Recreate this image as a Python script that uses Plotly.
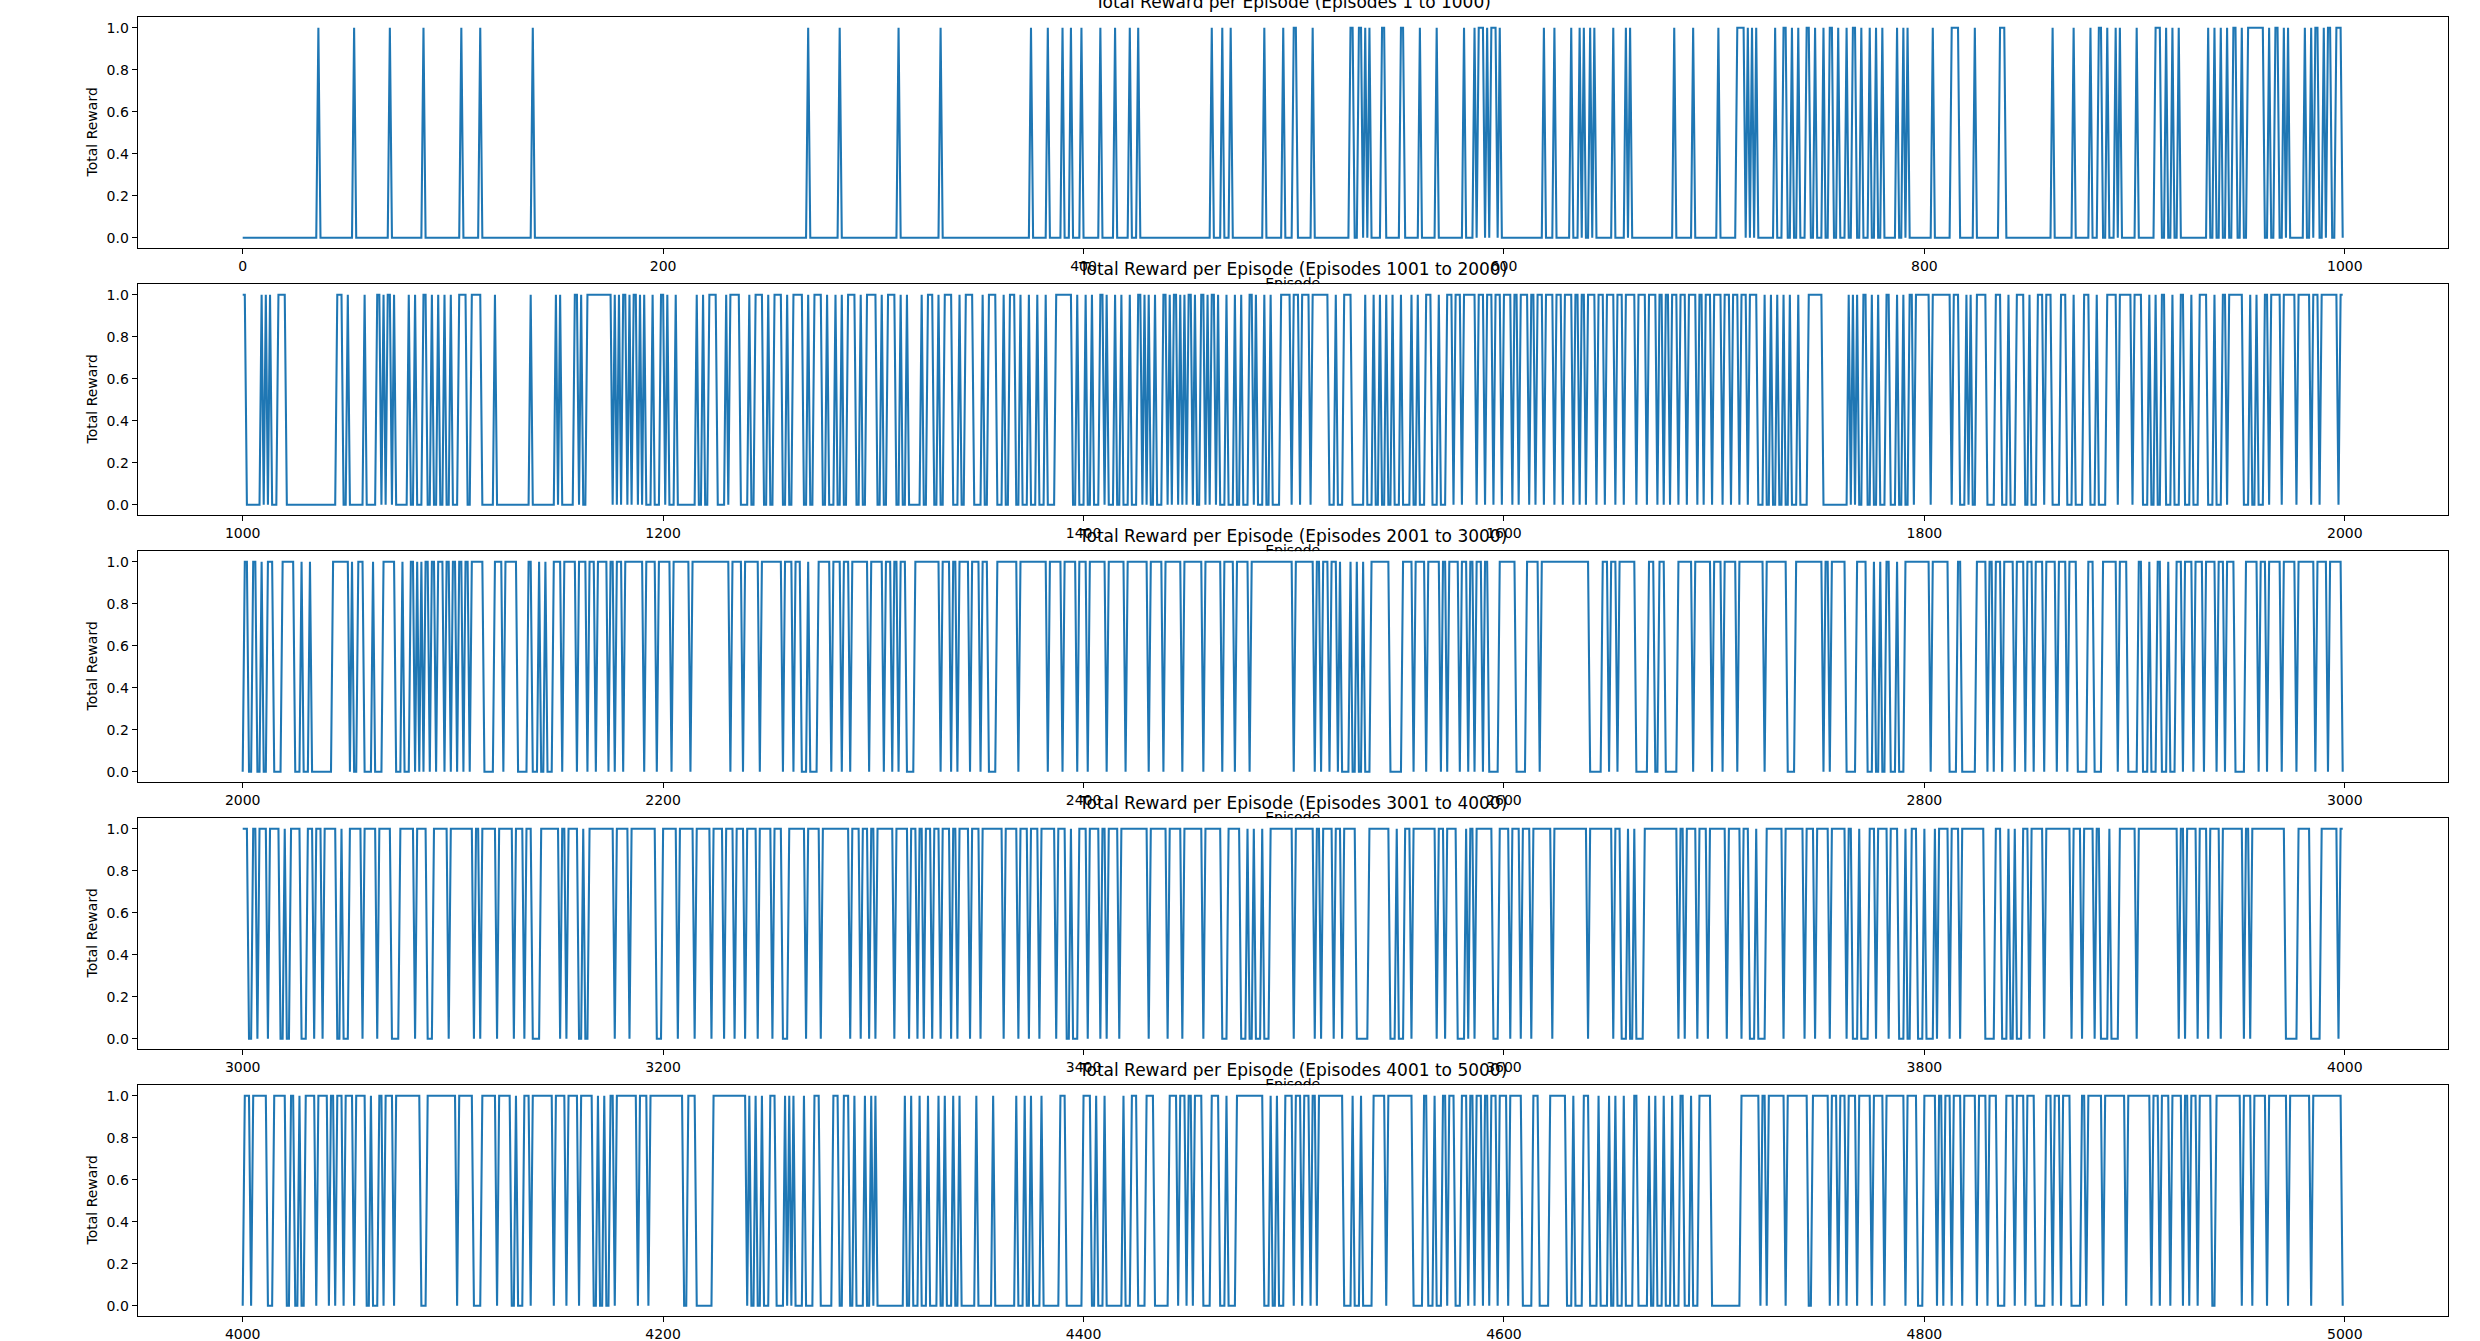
import plotly.graph_objects as go

W, H = 2480, 1341
BLUE = "#1f77b4"
FONT = "DejaVu Sans"

# ---------------- data ----------------
# Each panel: base value, episodes/ranges flipped to the other value,
# then episodes/ranges put back to the base value.
panel_starts = [0, 1000, 2000, 3000, 4000]
panel_titles = [
    "Total Reward per Episode (Episodes 1 to 1000)",
    "Total Reward per Episode (Episodes 1001 to 2000)",
    "Total Reward per Episode (Episodes 2001 to 3000)",
    "Total Reward per Episode (Episodes 3001 to 4000)",
    "Total Reward per Episode (Episodes 4001 to 5000)",
]
y_ticks = [0.0, 0.2, 0.4, 0.6, 0.8, 1.0]

p1_base = 0
p1_flip = [36, 53, 70, 86, 104, 113, 138, 269, 284, 312, 332, 375, 383, 390, 394, 399, 408, 415, 422, 426,
           461, 466, 470, 486, 495, [500, 501], 509, [527, 528], 531, 532, 534, 536, 542, 543, 551, 552, 560,
           568, 581, 586, [588, 590], 592, 594, 595, 596, 598, 619, 624, 632, 636, 638, 641, 643, 652, 658,
           660, 681, 690, 702, [711, 714], 716, 718, 720, 729, [733, 734], 737, 740, [744, 745], 748, 752,
           [755, 756], 759, 763, [766, 767], 770, 774, 777, 780, 787, 790, 792, 804,
           [813, 816], 824, [836, 838], 861, 871, 879, [883, 884], 887, 891, 893, 901, [910, 912],
           915, 918, 921, 935, 938, 941, 944, [947, 948], 951, [954, 961], 964,
           [967, 968], 971, 973, 981, 984, [986, 987], 990, [992, 993], 996, [997, 998]]
p1_back = []

p2_base = 0
p2_flip = [[1000, 1001], 1009, 1011, 1013, [1017, 1020], [1045, 1047], 1050, 1058, [1064, 1065], 1067,
           [1069, 1070], 1072, 1079, 1082, [1086, 1087], 1090, 1093, 1096, 1099, [1103, 1106], [1109, 1113],
           1120, 1137, 1149, 1151, [1158, 1159], 1161, [1164, 1175], 1177, 1179,
           [1181, 1182], 1184, [1186, 1187], 1189, 1191, 1195, [1199, 1200], 1202, 1206, 1216, 1219,
           [1222, 1225], 1230, [1232, 1236], 1241, [1244, 1247], 1250, [1253, 1256], 1259, [1262, 1266],
           1269, [1272, 1275], 1278, 1282, 1285, [1288, 1291], 1294, [1297, 1301], 1304, [1307, 1310],
           1313, 1316, 1323, [1326, 1328], 1331, [1334, 1337], 1341, [1344, 1347], 1352, [1355, 1358],
           1362, [1365, 1367], 1370, 1374, 1378, 1382,
           [1387, 1394], 1397, 1401, 1404, [1408, 1409], 1411, 1415, 1418, 1422, [1426, 1427], 1429, 1431,
           1434, [1438, 1439], 1441, [1443, 1444], 1446, 1448, [1450, 1451], 1453, [1456, 1457], 1459,
           [1461, 1462], 1464, 1468, 1472, 1475, [1479, 1480], 1482, 1486, 1489, [1494, 1498], [1500, 1999]]
p2_back = [1503, 1508, [1517, 1519], [1521, 1523], [1528, 1533], [1535, 1537], [1539, 1540], [1542, 1543],
           [1545, 1546], [1548, 1550], [1552, 1555], [1557, 1558], [1560, 1562], [1566, 1568], [1570, 1572],
           1576, 1580, 1587, 1591, 1595, 1599, 1604, 1607, 1612, 1615, 1619, 1624, 1628, 1633, 1636, 1639,
           1644, 1648, 1653, 1657, 1663, 1668, 1673, 1676, 1679, 1683, 1687, 1692, 1695, 1699, 1704, 1708,
           1712, 1716, [1721, 1723], [1725, 1726], [1728, 1729], [1731, 1732], [1734, 1735], [1737, 1739],
           [1741, 1744], [1752, 1763], 1765, 1767, [1769, 1770], [1773, 1774], [1776, 1777], [1779, 1781],
           [1784, 1786], [1788, 1789], [1791, 1792], 1795, 1803, 1813, [1817, 1819], 1821, [1823, 1824],
           [1830, 1833], [1837, 1839], [1841, 1843], [1848, 1849], [1851, 1853], 1857, [1861, 1864],
           [1868, 1870], [1872, 1875], [1879, 1881], [1883, 1886], 1892, 1899, [1904, 1906], [1908, 1909],
           [1911, 1912], [1915, 1917], [1919, 1921], [1924, 1926], [1928, 1930], [1935, 1937], [1939, 1941],
           1944, [1952, 1954], [1956, 1957], [1959, 1961], 1964, 1970, 1977, 1984, 1988, 1997]

p3_base = 1
p3_flip = [2000, [2003, 2004], [2007, 2011], [2015, 2018], [2025, 2027], [2029, 2031], [2033, 2042], 2051,
           [2053, 2054], [2058, 2066], [2073, 2079], 2082, 2084, 2086, 2089, 2092, 2096, 2099, 2102, 2105,
           2108, [2115, 2119], 2124, [2131, 2135], [2138, 2147], 2152, 2159, 2164, 2168, 2174, 2177, 2181,
           2191, 2197, 2204, 2213, 2232, 2238, 2246, 2257, 2262, [2266, 2273], 2280, 2285, 2289, 2298, 2305,
           2309, 2312, [2316, 2319], 2332, 2337, 2340, 2346, 2351, [2355, 2358], 2369, 2383, 2390, 2397, 2402,
           2411, 2420, 2431, 2438, 2447, 2457, 2466, 2472, 2479, 2500, 2510, 2513, 2517, 2521, [2523, 2526],
           [2528, 2536], [2546, 2551], 2557, 2563, 2570, 2573, 2579, 2583, 2586, 2590, [2593, 2597],
           [2606, 2610], 2617, [2641, 2646], 2650, 2654, [2663, 2668], [2672, 2673], [2677, 2682], 2690, 2699,
           2704, 2711, 2724, [2735, 2738], 2752, 2755, [2763, 2767], [2773, 2781], [2784, 2790], 2803,
           [2812, 2815], [2818, 2824], 2830, 2833, 2837, 2843, 2848, 2852, 2857, 2863, 2868, [2873, 2877],
           [2881, 2884], 2892, [2897, 2901], [2904, 2910], [2913, 2919], 2923, 2928, 2933, 2939, 2943,
           [2948, 2952], 2959, 2963, 2970, 2977, 2986, 2992, 2999]
p3_back = [2009, 2062, 2076, 2141, 2144, 2269, 2530, 2533, 2776, 2779, 2787, 2907, 2916]

p4_base = 1
p4_flip = [[3003, 3004], 3007, 3012, [3018, 3022], [3028, 3030], 3034, 3038, [3045, 3050], 3057, 3064,
           [3071, 3074], 3082, [3088, 3090], 3098, 3110, 3113, 3121, 3129, 3134, [3138, 3141], 3151, 3154,
           [3160, 3164], 3177, 3184, [3197, 3199], 3207, 3215, 3223, 3229, 3234, 3239, 3245, 3252,
           [3257, 3259], 3268, 3275, 3289, 3294, 3298, 3301, 3310, 3317, 3321, 3324, 3328, 3332, 3337, 3340,
           3346, 3351, 3362, 3369, 3374, 3379, 3387, [3392, 3397], 3402, 3408, 3411, 3417, 3431, 3440, 3447,
           3457, [3466, 3468], [3475, 3488], 3500, 3510, 3513, 3519, 3523, [3530, 3535], [3546, 3552], 3556,
           3568, 3572, [3578, 3581], 3583, 3586, [3595, 3597], 3603, 3608, 3613, 3623, 3640, 3652,
           [3656, 3666], 3683, 3686, 3692, 3697, 3706, 3713, [3717, 3724], 3733, 3743, 3748, 3755, 3763,
           [3766, 3773], 3777, 3783, [3788, 3793], [3797, 3804], 3806, 3812, 3817, [3829, 3833], [3837, 3846],
           3850, 3857, 3870, 3875, 3881, [3884, 3892], 3901, 3921, 3924, 3930, 3935, 3941, 3952, 3955,
           [3972, 3977], [3984, 3988], 3997]
p4_back = [3020, 3047, 3162, 3394, 3478, 3481, 3485, 3549, 3659, 3662, 3720, 3769, 3791, 3800, 3840, 3843,
           3888]

p5_base = 1
p5_flip = [4000, 4004, [4012, 4014], [4021, 4022], [4025, 4029], 4035, 4041, 4044, 4048, 4053, [4059, 4064],
           4067, 4072, [4085, 4087], 4102, [4110, 4113], 4121, [4128, 4133], 4137, 4148, 4154, 4160,
           [4167, 4174], 4177, 4188, 4193, [4210, 4211], [4216, 4223], [4240, 4440], 4445, 4449, 4452,
           [4457, 4460], [4465, 4472], [4486, 4495], 4500, 4504, 4508, 4511, [4524, 4537], 4544, [4557, 4561],
           [4564, 4570], 4573, [4577, 4579], 4583, 4586, 4590, 4593, 4597, 4602, [4609, 4613], [4617, 4621],
           [4630, 4637], [4641, 4644], [4646, 4661], [4664, 4668], [4670, 4675], [4677, 4683], [4686, 4692],
           [4699, 4712], 4722, 4725, 4734, [4745, 4746], 4755, 4759, 4763, 4768, 4775, 4781, 4791,
           [4797, 4799], 4806, 4809, 4813, 4818, 4825, 4830, [4835, 4838], 4843, 4848, [4853, 4857], 4861,
           4865, [4870, 4874], 4877, 4885, 4896, 4908, 4912, 4917, 4923, 4926, 4930, [4937, 4938], 4951, 4956,
           4963, 4973, 4984, 4999]
p5_back = [4027, 4061, 4130, 4169, 4172, 4241, 4244, 4247, [4251, 4253], 4258, 4260, 4262, 4267, [4272, 4274],
           [4281, 4283], [4286, 4288], 4291, 4296, 4299, 4301, 4315, 4318, 4322, 4326, 4331, 4334, 4338, 4341,
           4349, 4357, 4368, 4372, 4375, 4380, [4389, 4391], [4400, 4403], 4406, 4410, 4419, [4423, 4425],
           [4430, 4433], 4468, 4489, 4492, 4528, 4532, 4567, 4633, 4650, 4653, 4657, 4672, 4680, 4689]

panels = [
    (p1_base, p1_flip, p1_back),
    (p2_base, p2_flip, p2_back),
    (p3_base, p3_flip, p3_back),
    (p4_base, p4_flip, p4_back),
    (p5_base, p5_flip, p5_back),
]


def expand(items):
    for it in items:
        if isinstance(it, int):
            yield it, it
        else:
            yield it[0], it[1]


def build(start, base, flip, back):
    v = [base] * 1000
    for a, b in expand(flip):
        for e in range(a, b + 1):
            v[e - start] = 1 - base
    for a, b in expand(back):
        for e in range(a, b + 1):
            v[e - start] = base
    return v


# ---------------- layout geometry (pixels) ----------------
AX_L, AX_R = 137.7, 2447.7
TOP0, PANEL_H, STEP = 17.3, 231.0, 267.0
XL, XR = AX_L / W, AX_R / W
XC = (XL + XR) / 2


def py(px):
    return 1 - px / H


fig = go.Figure()
layout = dict(
    width=W, height=H, autosize=False,
    margin=dict(l=0, r=0, t=0, b=0, pad=0),
    paper_bgcolor="white", plot_bgcolor="white",
    showlegend=False,
    annotations=[],
)

axis_common = dict(
    showline=True, linecolor="black", linewidth=1.1, mirror=True,
    ticks="outside", ticklen=5, tickwidth=1.1, tickcolor="black",
    showgrid=False, zeroline=False,
    tickfont=dict(family=FONT, size=14, color="black"),
)

for k, (start, (base, flip, back)) in enumerate(zip(panel_starts, panels)):
    n = k + 1
    top = TOP0 + STEP * k
    bot = top + PANEL_H
    vals = build(start, base, flip, back)
    xs = list(range(start, start + 1000))
    fig.add_trace(go.Scatter(
        x=xs, y=vals, mode="lines",
        line=dict(color=BLUE, width=2.08),
        xaxis=f"x{n}", yaxis=f"y{n}", hoverinfo="skip",
    ))
    xt = [start + 200 * i for i in range(6)]
    layout[f"xaxis{n}"] = dict(
        axis_common, domain=[XL, XR], anchor=f"y{n}",
        range=[start - 49.95, start + 999 + 49.95],
        tickvals=xt, ticktext=[str(t) for t in xt],
    )
    layout[f"yaxis{n}"] = dict(
        axis_common, domain=[py(bot), py(top)], anchor=f"x{n}",
        range=[-0.05, 1.05],
        tickvals=y_ticks, ticktext=[f"{t:.1f}" for t in y_ticks],
    )
    # title
    layout["annotations"].append(dict(
        text=panel_titles[k], xref="paper", yref="paper",
        x=XC, y=py(top - 3.3), xanchor="center", yanchor="bottom",
        showarrow=False, font=dict(family=FONT, size=17, color="black"),
    ))
    # y label
    layout["annotations"].append(dict(
        text="Total Reward", xref="paper", yref="paper",
        x=91.7 / W, y=py((top + bot) / 2), xanchor="center", yanchor="middle",
        textangle=-90, showarrow=False, font=dict(family=FONT, size=14, color="black"),
    ))
    # x label "Episode", clipped by the panel below (strip axes)
    if k < 4:
        m = 6 + k
        s_top = bot + 18
        s_bot = top + STEP
        layout[f"xaxis{m}"] = dict(domain=[XL, XR], range=[0, 1], visible=False,
                                    anchor=f"y{m}", fixedrange=True)
        layout[f"yaxis{m}"] = dict(domain=[py(s_bot), py(s_top)], range=[0, 1], visible=False,
                                    anchor=f"x{m}", fixedrange=True)
        fig.add_trace(go.Scatter(
            x=[0.5], y=[(s_bot - (bot + 29.0)) / (s_bot - s_top)],
            mode="text", text=["Episode"], textposition="bottom center",
            textfont=dict(family=FONT, size=14, color="black"),
            cliponaxis=True, xaxis=f"x{m}", yaxis=f"y{m}", hoverinfo="skip",
        ))

fig.update_layout(**layout)
fig.write_html("out.html")
